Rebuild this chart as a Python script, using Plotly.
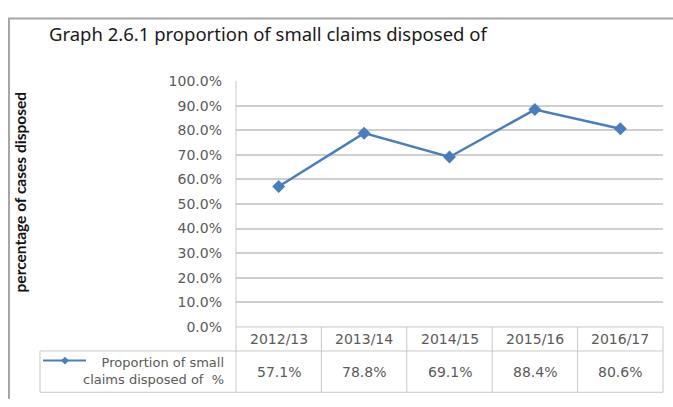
import plotly.graph_objects as go

categories = ["2012/13", "2013/14", "2014/15", "2015/16", "2016/17"]
values = [57.1, 78.8, 69.1, 88.4, 80.6]
series_name = "Proportion of small<br>claims disposed of  %"
title_text = "Graph 2.6.1 proportion of small claims disposed of"
y_title = "percentage of cases disposed"

W, H = 673, 407
BLUE = "#4a7ebb"
GRID = "#cfcfcf"
BORDER = "#c8c8c8"
TXT = "#5a5a5a"
TFONT = "DejaVu Sans"

# plot area in pixels
PX0, PX1 = 236, 663
PY0, PY1 = 76, 332  # top (100%), bottom (0%)
ROW1, ROW2 = 357, 400
LEG_X0 = 40

def fx(px):
    return px / W

def fy(py):
    return 1 - py / H

fig = go.Figure()
fig.add_trace(go.Scatter(
    x=categories, y=values, mode="lines+markers",
    line=dict(color=BLUE, width=2.5),
    marker=dict(symbol="diamond", size=10, color=BLUE),
    showlegend=False, hoverinfo="skip"))

shapes = []
def line(x0, y0, x1, y1, color=BORDER, width=1):
    shapes.append(dict(type="line", xref="paper", yref="paper",
                       x0=fx(x0), y0=fy(y0), x1=fx(x1), y1=fy(y1),
                       line=dict(color=color, width=width)))

# outer frame
line(8, 11, W, 11, "#a6a6a6", 2)
line(9, 11, 9, H, "#a6a6a6", 2)

# table lines
line(PX0, PY1, PX1, PY1)
line(LEG_X0, ROW1, PX1, ROW1)
line(LEG_X0, ROW2, PX1, ROW2)
line(LEG_X0, ROW1, LEG_X0, ROW2)
line(PX0, PY0, PX0, ROW2)
n = len(categories)
colw = (PX1 - PX0) / n
for i in range(1, n + 1):
    line(PX0 + colw * i, PY1, PX0 + colw * i, ROW2)

# legend glyph
line(43, 367, 86, 367, BLUE, 2)
cx, cy, r = 65, 367, 4
shapes.append(dict(type="path", xref="paper", yref="paper",
                   path=f"M {fx(cx-r)},{fy(cy)} L {fx(cx)},{fy(cy-r)} L {fx(cx+r)},{fy(cy)} L {fx(cx)},{fy(cy+r)} Z",
                   fillcolor=BLUE, line=dict(color=BLUE, width=0)))

annotations = []
# title
annotations.append(dict(text=title_text, x=fx(47), y=fy(27), xref="paper", yref="paper",
                        xanchor="left", yanchor="middle", showarrow=False,
                        font=dict(family="Noto Sans", size=18.5, color="#1a1a1a")))
# y title
annotations.append(dict(text=f"<b>{y_title}</b>", x=fx(20), y=fy(192), xref="paper", yref="paper",
                        xanchor="center", yanchor="middle", textangle=-90, showarrow=False,
                        font=dict(family="Lato", size=15.5, color="#111111")))
# categories and values in table
for c, v in zip(categories, values):
    annotations.append(dict(text=c, x=c, y=fy((PY1 + ROW1) / 2), xref="x", yref="paper",
                            showarrow=False, xanchor="center", yanchor="middle",
                            font=dict(family=TFONT, size=14, color=TXT)))
    annotations.append(dict(text=f"{v:.1f}%", x=c, y=fy((ROW1 + ROW2) / 2), xref="x", yref="paper",
                            showarrow=False, xanchor="center", yanchor="middle",
                            font=dict(family=TFONT, size=14, color=TXT)))
# legend text
annotations.append(dict(text=series_name, x=fx(226), y=fy(378), xref="paper", yref="paper",
                        showarrow=False, xanchor="right", yanchor="middle", align="right",
                        font=dict(family=TFONT, size=13, color=TXT)))

fig.update_layout(
    width=W, height=H, margin=dict(l=0, r=0, t=0, b=0),
    paper_bgcolor="white", plot_bgcolor="white",
    xaxis=dict(domain=[fx(PX0), fx(PX1)], range=[-0.5, n - 0.5], type="category",
               showgrid=False, showticklabels=False, zeroline=False, showline=False, ticks=""),
    yaxis=dict(domain=[fy(PY1), fy(PY0)], range=[0, 100], dtick=10, tickformat=".1f",
               ticksuffix="%", showgrid=True, gridcolor=GRID, gridwidth=1.5, zeroline=False,
               showline=False, ticks="", ticklabelstandoff=13,
               tickfont=dict(family=TFONT, size=14, color=TXT)),
    shapes=shapes, annotations=annotations,
)

fig.write_html("out.html")
